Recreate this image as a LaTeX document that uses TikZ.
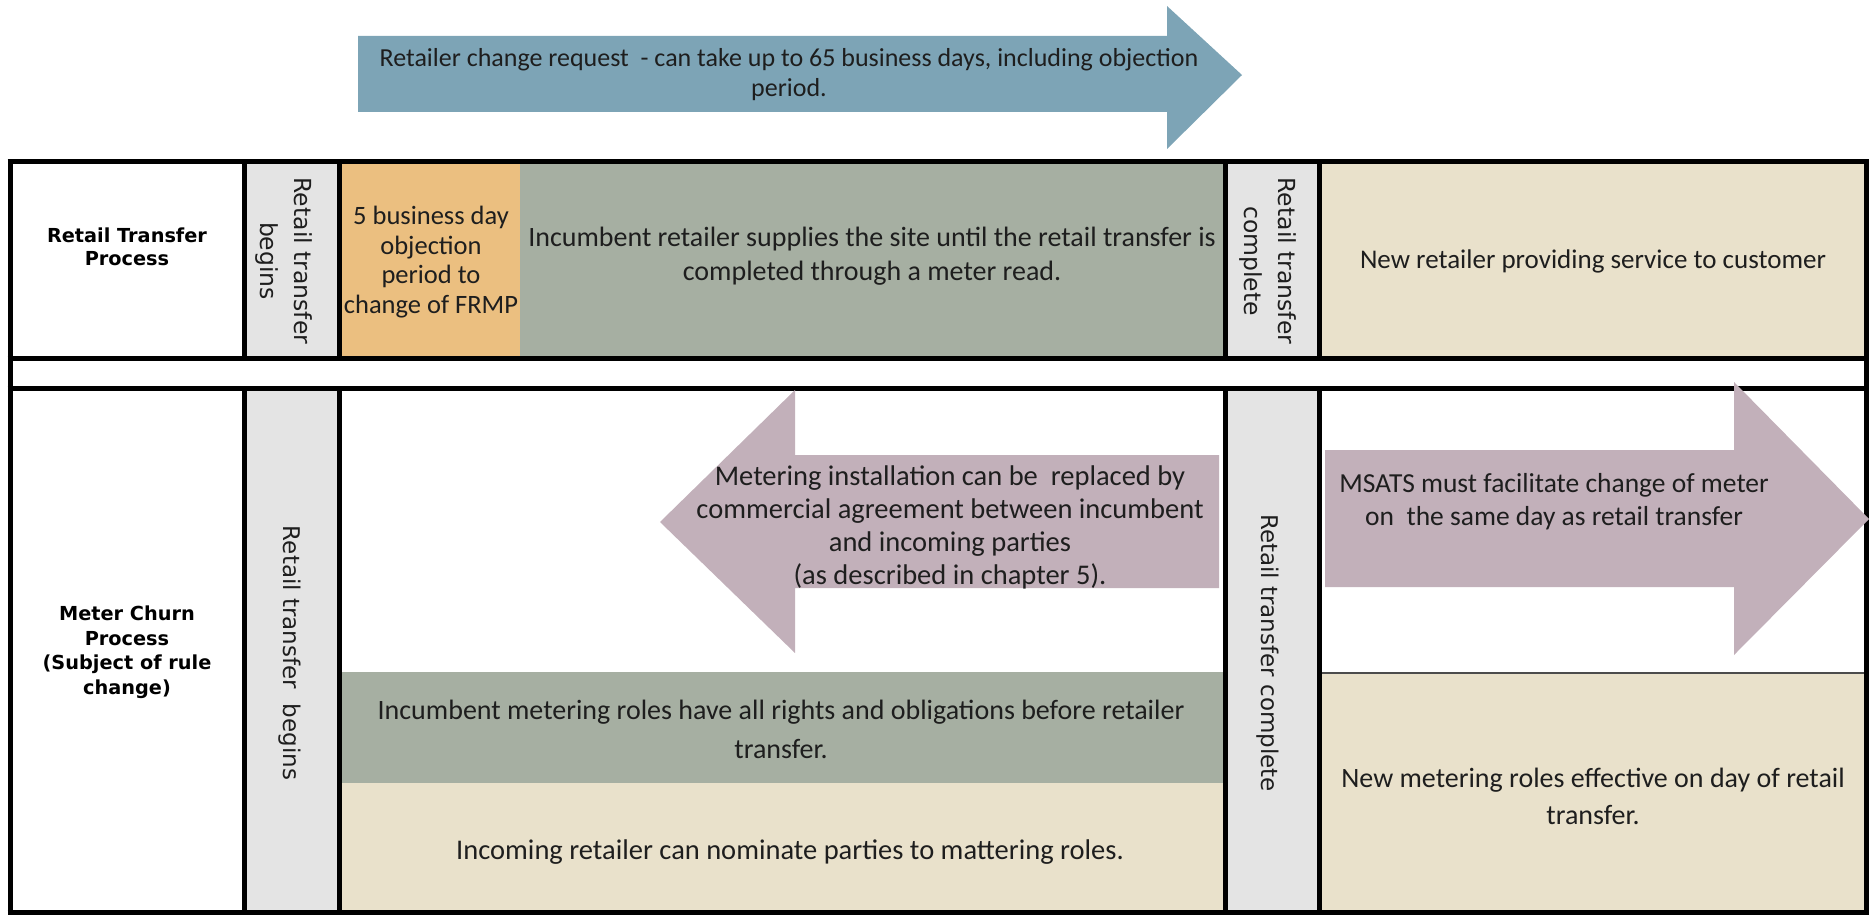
\documentclass[tikz,border=0pt]{standalone}
\usepackage{fontspec}
\setmainfont{Carlito}
\newfontfamily\dejavu{DejaVu Sans}
\definecolor{arrowblue}{HTML}{7DA4B6}
\definecolor{cellgray}{HTML}{E4E4E4}
\definecolor{cellorange}{HTML}{EBBF80}
\definecolor{cellgreen}{HTML}{A6AFA2}
\definecolor{cellbeige}{HTML}{E9E1CB}
\definecolor{arrowpurple}{HTML}{C2B0BA}
\definecolor{textc}{HTML}{1E1E1E}
\begin{document}
\begin{tikzpicture}[x=1pt,y=-1pt,
  txt/.style={align=center,text=textc,inner sep=0pt,font=\fontsize{28}{33}\selectfont},
  lbl/.style={align=center,text=black,inner sep=0pt,font=\dejavu\bfseries\fontsize{19.3}{23.5}\selectfont},
  vtxt/.style={align=center,text=textc,inner sep=0pt,rotate=-90,font=\dejavu\fontsize{23.5}{34}\selectfont},
  border/.style={line width=5pt,black},
  thinline/.style={line width=1.5pt,black!70}]
\useasboundingbox (0,0) rectangle (1872,915);
% ---------- top arrow ----------
\fill[arrowblue] (358,36) -- (1167,36) -- (1167,6) -- (1242,75) -- (1167,149) -- (1167,112) -- (358,112) -- cycle;
\node[txt,font=\fontsize{26}{30}\selectfont] (req) at (789,75) {Retailer change request\ \ - can take up to 65 business days, including objection\\period.};
% ---------- cell fills ----------
% row 1
\fill[white] (10,162) rectangle (244,358);
\fill[cellgray] (244,162) rectangle (339,358);
\fill[cellorange] (339,162) rectangle (520,358);
\fill[cellgreen] (520,162) rectangle (1225,358);
\fill[cellgray] (1225,162) rectangle (1319,358);
\fill[cellbeige] (1319,162) rectangle (1866,358);
% row 2
\fill[cellgray] (244,388) rectangle (339,913);
\fill[cellgreen] (339,672) rectangle (1225,783);
\fill[cellbeige] (339,783) rectangle (1225,913);
\fill[cellgray] (1225,388) rectangle (1319,913);
\fill[cellbeige] (1319,673) rectangle (1866,913);
\draw[thinline] (1319,673) -- (1866,673);
% ---------- borders ----------
\draw[border] (7.5,162) -- (1868.5,162);
\draw[border] (7.5,358) -- (1868.5,358);
\draw[border] (7.5,388) -- (1868.5,388);
\draw[border] (7.5,912.5) -- (1868.5,912.5);
\draw[border] (10,162) -- (10,915);
\draw[border] (1866,162) -- (1866,915);
\foreach \xx in {244,339,1225,1319} {
  \draw[border] (\xx,162) -- (\xx,358);
  \draw[border] (\xx,388) -- (\xx,915);
}
% ---------- row 1 texts ----------
\node[lbl] (lab1) at (127,247) {Retail Transfer\\Process};
\node[vtxt] (rtb1) at (284,261) {Retail transfer\\begins};
\node[txt,font=\fontsize{26.5}{29.5}\selectfont] (obj) at (431,262) {5 business day\\objection\\period to\\change of FRMP};
\node[txt,font=\fontsize{28}{34}\selectfont] (inc) at (872,256) {Incumbent retailer supplies the site until the retail transfer is\\completed through a meter read.};
\node[vtxt] (rtc1) at (1268,261) {Retail transfer\\complete};
\node[txt,font=\fontsize{27}{33}\selectfont] (newret) at (1593,261) {New retailer providing service to customer};
% ---------- row 2 texts ----------
\node[lbl,font=\dejavu\bfseries\fontsize{19.3}{24.5}\selectfont] (lab2) at (127,652) {Meter Churn\\Process\\(Subject of rule\\change)};
\node[vtxt,font=\dejavu\fontsize{23}{34}\selectfont] (rtb2) at (290,653) {Retail transfer\ \ begins};
\node[vtxt,font=\dejavu\fontsize{23}{34}\selectfont] (rtc2) at (1268,653) {Retail transfer complete};
\node[txt,font=\fontsize{28}{39}\selectfont] (incmet) at (781,729) {Incumbent metering roles have all rights and obligations before retailer\\transfer.};
\node[txt,font=\fontsize{28.5}{33}\selectfont] (incoming) at (790,852) {Incoming retailer can nominate parties to mattering roles.};
\node[txt,font=\fontsize{28}{37}\selectfont] (newmet) at (1593,796) {New metering roles effective on day of retail\\transfer.};
% ---------- purple arrows ----------
\fill[arrowpurple] (660,522) -- (795,390) -- (795,455) -- (1219,455) -- (1219,588) -- (795,588) -- (795,653) -- cycle;
\node[txt,font=\fontsize{28.5}{33}\selectfont] (meter) at (950,527) {Metering installation can be\ \ replaced by\\commercial agreement between incumbent\\and incoming parties\\(as described in chapter 5).};
\fill[arrowpurple] (1325,450) -- (1734,450) -- (1734,382) -- (1869,519) -- (1734,655) -- (1734,587) -- (1325,587) -- cycle;
\node[txt,font=\fontsize{27.5}{33}\selectfont] (msats) at (1554,502) {MSATS must facilitate change of meter\\on\ \ the same day as retail transfer};
\end{tikzpicture}
\end{document}
